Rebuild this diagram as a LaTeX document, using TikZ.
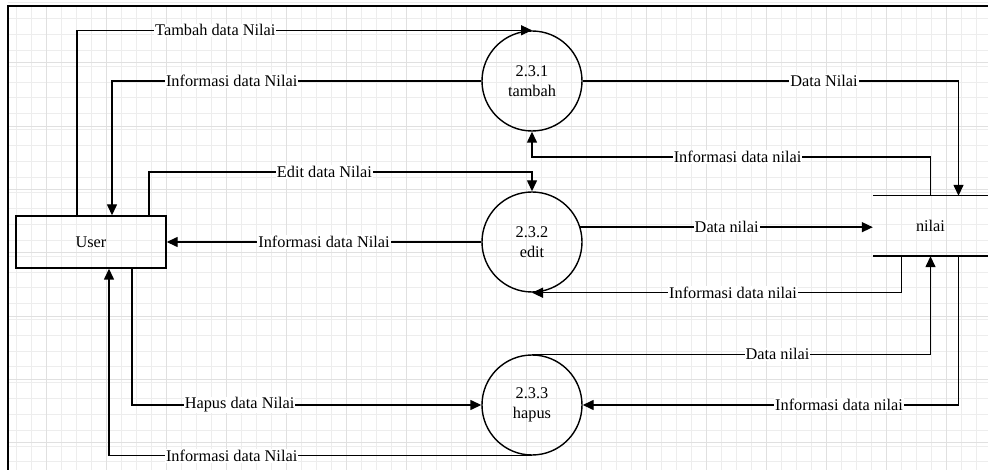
\documentclass[tikz,border=0pt]{standalone}
\usepackage{fontspec}
\setmainfont{Liberation Serif}
\usetikzlibrary{arrows.meta,calc}
\begin{document}
\begin{tikzpicture}[x=1pt,y=-1pt,
  txt/.style={font=\fontsize{16.3}{20.5}\selectfont},
  ent/.style={draw,line width=1.4pt,minimum width=150pt,minimum height=52pt,inner sep=0pt,txt},
  proc/.style={draw,circle,line width=1.4pt,minimum size=100pt,inner sep=0pt,align=center,txt},
  store/.style={minimum width=115pt,minimum height=60pt,inner sep=0pt,txt},
  flow/.style={line width=1.4pt,-{Triangle[length=11pt,width=10pt]}},
  lbl/.style={fill=white,inner sep=1pt,txt},
  gridminor/.style={line width=0.6pt,color=black!7},
  gridmajor/.style={line width=0.8pt,color=black!12}]
\useasboundingbox (0,0) rectangle (988,470);
\fill[white] (0,0) rectangle (988,470);
% grid
\foreach \i in {0,...,64} {\draw[gridminor] ({16.7+15*\i},6) -- ({16.7+15*\i},470);}
\foreach \i in {0,...,29} {\draw[gridminor] (8,{2.7+15.83*\i}) -- (988,{2.7+15.83*\i});}
\foreach \i in {0,...,15} {\draw[gridmajor] ({46.7+60*\i},6) -- ({46.7+60*\i},470);}
\foreach \i in {1,...,7} {\draw[gridmajor] (8,{-0.7+63.33*\i}) -- (988,{-0.7+63.33*\i});}
% frame
\draw[line width=1.7pt] (8,470) -- (8,6) -- (988,6);
% nodes
\node[ent] (user) at (91,242) {User};
\node[proc] (p1) at (532,81) {2.3.1\\tambah};
\node[proc] (p2) at (532,242) {2.3.2\\edit};
\node[proc] (p3) at (532,405) {2.3.3\\hapus};
\node[store] (store) at (930.5,226) {nilai};
\draw[line width=1.4pt] (store.north west) -- (store.north east);
\draw[line width=1.4pt] (store.south west) -- (store.south east);
\coordinate (e1) at (532,172);
\coordinate (e2) at (532,157);
% connectors
\draw[flow] ([xshift=-14pt]user.north) |- node[lbl,pos=0.652]{Tambah data Nilai} (p1.north);
\draw[flow] (p1.west) -| node[lbl,pos=0.338]{Informasi data Nilai} ([xshift=21pt]user.north);
\draw[flow] ([xshift=58pt]user.north) |- node[lbl,pos=0.729]{Edit data Nilai} (e1) -- (p2.north);
\draw[flow] (p2.west) -- node[lbl,pos=0.5]{Informasi data Nilai} (user.east);
\draw[flow] (p1.east) -| node[lbl,pos=0.321]{Data Nilai} ([xshift=28pt]store.north);
\draw[flow] (store.north) |- node[lbl,pos=0.742]{Informasi data nilai} (e2) -- (p1.south);
\draw[flow] (p2.17) -- node[lbl,pos=0.5]{Data nilai} (p2.17 -| store.west);
\draw[flow] ([xshift=-29pt]store.south) |- node[lbl,pos=0.728]{Informasi data nilai} (p2.south);
\draw[flow] (p3.north) -| node[lbl,pos=0.308]{Data nilai} (store.south);
\draw[flow] ([xshift=28pt]store.south) |- node[lbl,pos=0.659]{Informasi data nilai} (p3.east);
\draw[flow] ([xshift=41pt]user.south) |- node[lbl,pos=0.654]{Hapus data Nilai} (p3.west);
\draw[flow] (p3.south) -| node[lbl,pos=0.355]{Informasi data Nilai} ([xshift=18pt]user.south);
\end{tikzpicture}
\end{document}
